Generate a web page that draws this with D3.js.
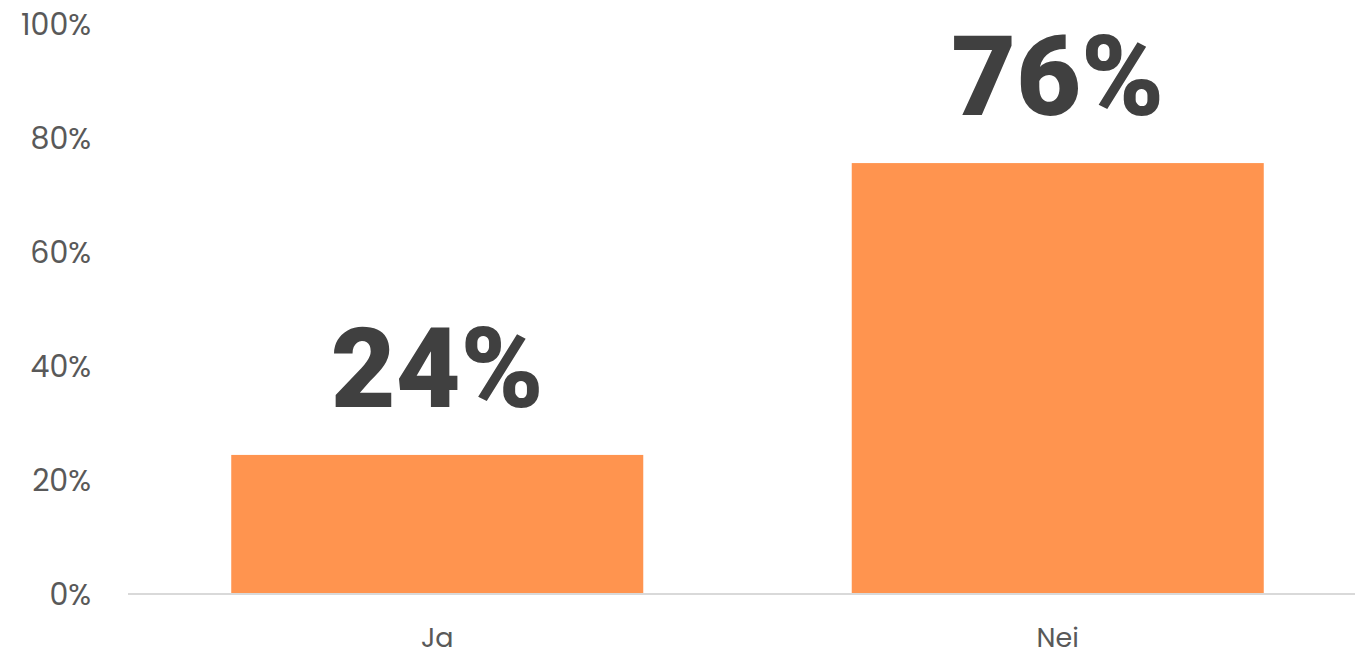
<!DOCTYPE html>
<html>
<head>
<meta charset="utf-8">
<script src="https://cdn.jsdelivr.net/npm/d3@7"></script>
<style>
  body { margin: 0; background: #fff; }
  svg { display: block; }
</style>
</head>
<body>
<svg id="chart"></svg>
<script>
"use strict"
// chart data
var categories = ["Ja", "Nei"];
var values = [0.244, 0.756];
var valueLabels = ["24%", "76%"];
var yTicks = [0, 0.2, 0.4, 0.6, 0.8, 1];

var width = 1355;
var height = 655;
var barColor = "#ff944f";
var axisTextColor = "#595959";
var labelColor = "#404040";
var font = "Poppins, Inter, 'Open Sans', sans-serif";
var bigFont = "Roboto, Inter, sans-serif";

var svg = d3.select("#chart").attr("width", width).attr("height", height);

// plot area runs off the right edge a little, like in the original
var xScale = d3.scaleBand()
    .domain(categories)
    .range([127, 1368])
    .paddingInner(0.336)
    .paddingOuter(0.168);

var yScale = d3.scaleLinear().domain([0, 1]).range([594, 24]);

// y tick labels (no axis line)
svg.append("g").selectAll("text")
    .data(yTicks)
    .enter().append("text")
    .attr("x", 91)
    .attr("y", function(d) { return yScale(d); })
    .attr("dy", "0.35em")
    .attr("text-anchor", "end")
    .attr("fill", axisTextColor)
    .style("font-family", font)
    .style("font-size", "30px")
    .text(d3.format(".0%"));

// bars
svg.append("g").selectAll("rect")
    .data(values)
    .enter().append("rect")
    .attr("x", function(d, i) { return xScale(categories[i]); })
    .attr("y", function(d) { return yScale(d); })
    .attr("width", xScale.bandwidth())
    .attr("height", function(d) { return yScale(0) - yScale(d); })
    .attr("fill", barColor);

// baseline
svg.append("line")
    .attr("x1", 128).attr("x2", width)
    .attr("y1", yScale(0)).attr("y2", yScale(0))
    .attr("stroke", "#d9d9d9")
    .attr("stroke-width", 2);

// category labels
svg.append("g").selectAll("text")
    .data(categories)
    .enter().append("text")
    .attr("x", function(d) { return xScale(d) + xScale.bandwidth() / 2; })
    .attr("y", 647)
    .attr("text-anchor", "middle")
    .attr("fill", axisTextColor)
    .style("font-family", font)
    .style("font-size", "27px")
    .text(function(d) { return d; });

// big value labels above bars
svg.append("g").selectAll("text")
    .data(values)
    .enter().append("text")
    .attr("x", function(d, i) { return xScale(categories[i]) + xScale.bandwidth() / 2; })
    .attr("y", function(d) { return yScale(d) - 48; })
    .attr("text-anchor", "middle")
    .attr("fill", labelColor)
    .style("font-family", bigFont)
    .style("font-size", "112px")
    .style("font-weight", 900)
    .text(function(d, i) { return valueLabels[i]; });
</script>
</body>
</html>
